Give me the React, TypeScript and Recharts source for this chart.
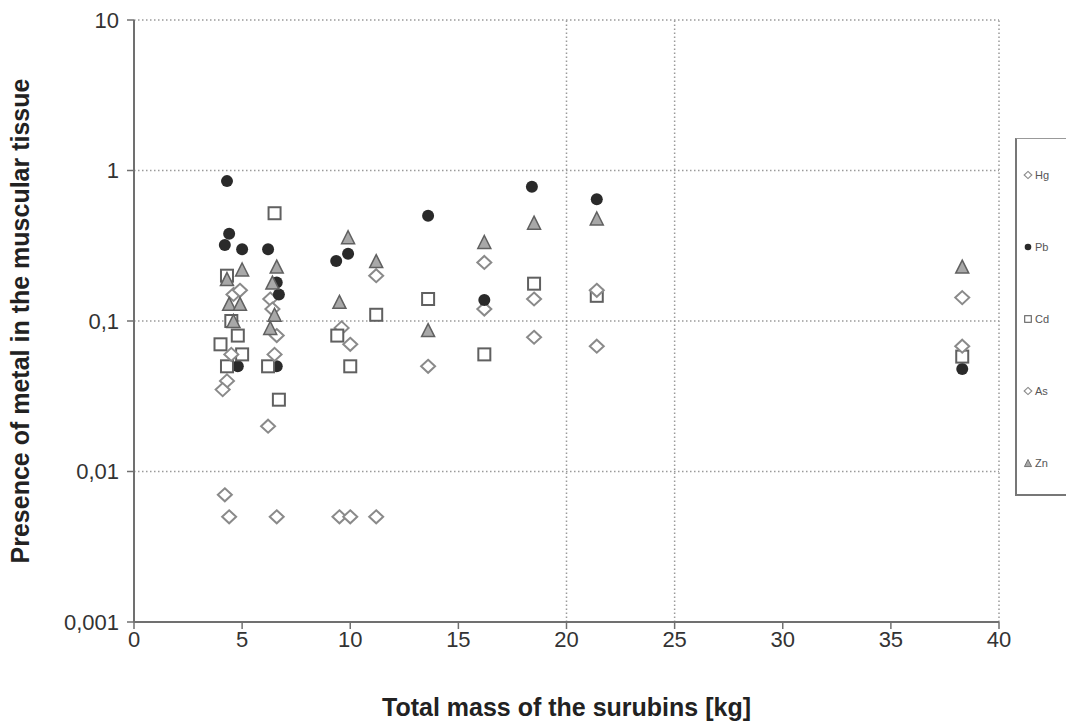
import React from "react";
import { ScatterChart, Scatter, XAxis, YAxis, ReferenceLine } from "recharts";

// mass [kg] vs metal content
const hgData = [
  { mass: 4.2, value: 0.007 },
  { mass: 4.4, value: 0.005 },
  { mass: 4.3, value: 0.04 },
  { mass: 6.2, value: 0.02 },
  { mass: 6.6, value: 0.005 },
  { mass: 6.3, value: 0.14 },
  { mass: 9.5, value: 0.005 },
  { mass: 10.0, value: 0.005 },
  { mass: 11.2, value: 0.005 },
  { mass: 9.6, value: 0.09 },
  { mass: 13.6, value: 0.05 },
  { mass: 16.2, value: 0.12 },
  { mass: 18.5, value: 0.14 },
  { mass: 21.4, value: 0.068 },
  { mass: 38.3, value: 0.143 },
];

const pbData = [
  { mass: 4.3, value: 0.85 },
  { mass: 4.4, value: 0.38 },
  { mass: 4.2, value: 0.32 },
  { mass: 5.0, value: 0.3 },
  { mass: 4.8, value: 0.05 },
  { mass: 6.2, value: 0.3 },
  { mass: 6.6, value: 0.18 },
  { mass: 6.7, value: 0.15 },
  { mass: 6.6, value: 0.05 },
  { mass: 9.35, value: 0.25 },
  { mass: 9.9, value: 0.28 },
  { mass: 13.6, value: 0.5 },
  { mass: 16.2, value: 0.138 },
  { mass: 18.4, value: 0.78 },
  { mass: 21.4, value: 0.645 },
  { mass: 38.3, value: 0.048 },
];

const cdData = [
  { mass: 4.3, value: 0.2 },
  { mass: 4.0, value: 0.07 },
  { mass: 4.3, value: 0.05 },
  { mass: 4.8, value: 0.08 },
  { mass: 5.0, value: 0.06 },
  { mass: 4.5, value: 0.1 },
  { mass: 6.5, value: 0.52 },
  { mass: 6.2, value: 0.05 },
  { mass: 6.7, value: 0.03 },
  { mass: 9.4, value: 0.08 },
  { mass: 10.0, value: 0.05 },
  { mass: 11.2, value: 0.11 },
  { mass: 13.6, value: 0.14 },
  { mass: 16.2, value: 0.06 },
  { mass: 18.5, value: 0.177 },
  { mass: 21.4, value: 0.147 },
  { mass: 38.3, value: 0.058 },
];

const asData = [
  { mass: 4.1, value: 0.035 },
  { mass: 4.6, value: 0.15 },
  { mass: 4.9, value: 0.16 },
  { mass: 4.5, value: 0.06 },
  { mass: 6.4, value: 0.12 },
  { mass: 6.6, value: 0.08 },
  { mass: 6.5, value: 0.06 },
  { mass: 10.0, value: 0.07 },
  { mass: 11.2, value: 0.2 },
  { mass: 16.2, value: 0.245 },
  { mass: 18.5, value: 0.078 },
  { mass: 21.4, value: 0.16 },
  { mass: 38.3, value: 0.068 },
];

const znData = [
  { mass: 4.3, value: 0.19 },
  { mass: 5.0, value: 0.22 },
  { mass: 4.4, value: 0.13 },
  { mass: 4.6, value: 0.1 },
  { mass: 4.9, value: 0.13 },
  { mass: 6.6, value: 0.23 },
  { mass: 6.4, value: 0.18 },
  { mass: 6.5, value: 0.11 },
  { mass: 6.3, value: 0.09 },
  { mass: 9.9, value: 0.36 },
  { mass: 9.5, value: 0.134 },
  { mass: 11.2, value: 0.25 },
  { mass: 13.6, value: 0.087 },
  { mass: 16.2, value: 0.335 },
  { mass: 18.5, value: 0.45 },
  { mass: 21.4, value: 0.48 },
  { mass: 38.3, value: 0.23 },
];

const xTicks = [0, 5, 10, 15, 20, 25, 30, 35, 40];
const yTicks = [0.001, 0.01, 0.1, 1, 10];
const yGrid = [10, 1, 0.1, 0.01];
const xGrid = [20, 25, 40];

type Kind = "diamond" | "circle" | "square" | "triangle";

function Marker({ cx, cy, kind, r = 1 }: { cx: number; cy: number; kind: Kind; r?: number }) {
  if (cx == null || cy == null) return null;
  if (kind === "diamond") {
    const w = 7 * r;
    const h = 6.5 * r;
    return (
      <path
        d={`M${cx},${cy - h}L${cx + w},${cy}L${cx},${cy + h}L${cx - w},${cy}Z`}
        fill="#fff"
        stroke="#8a8a8a"
        strokeWidth={2 * r}
      />
    );
  }
  if (kind === "circle") {
    return <circle cx={cx} cy={cy} r={6 * r} fill="#2a2a2a" />;
  }
  if (kind === "square") {
    const s = 6 * r;
    return (
      <rect x={cx - s} y={cy - s} width={2 * s} height={2 * s} fill="#fff" stroke="#606060" strokeWidth={2 * r} />
    );
  }
  const h = 6.5 * r;
  return (
    <path
      d={`M${cx},${cy - h}L${cx + 6.5 * r},${cy + h}L${cx - 6.5 * r},${cy + h}Z`}
      fill="#a8a8a8"
      stroke="#606060"
      strokeWidth={1.5 * r}
    />
  );
}

const seriesList: { name: string; data: { mass: number; value: number }[]; kind: Kind }[] = [
  { name: "Hg", data: hgData, kind: "diamond" },
  { name: "Pb", data: pbData, kind: "circle" },
  { name: "Cd", data: cdData, kind: "square" },
  { name: "As", data: asData, kind: "diamond" },
  { name: "Zn", data: znData, kind: "triangle" },
];

const fmt = (v: number) => String(v).replace(".", ",");
const font = "'Liberation Sans', Arial, sans-serif";

export default function App() {
  return (
    <div style={{ position: "relative", width: 1066, height: 723, fontFamily: font, background: "#fff" }}>
      <style>{"body{margin:0;overflow:hidden}"}</style>
      <ScatterChart width={1066} height={723} margin={{ top: 20, right: 67, bottom: 0, left: 0 }}>
        {yGrid.map((y) => (
          <ReferenceLine key={"y" + y} y={y} stroke="#9a9a9a" strokeDasharray="1.5 2.5" strokeWidth={1.5} />
        ))}
        {xGrid.map((x) => (
          <ReferenceLine key={"x" + x} x={x} stroke="#9a9a9a" strokeDasharray="1.5 2.5" strokeWidth={1.5} />
        ))}
        <XAxis
          dataKey="mass"
          type="number"
          domain={[0, 40]}
          ticks={xTicks}
          allowDataOverflow
          height={101}
          tickSize={7}
          tickMargin={2}
          axisLine={{ stroke: "#707070", strokeWidth: 2 }}
          tickLine={{ stroke: "#707070", strokeWidth: 1.5 }}
          tick={{ fill: "#333", fontSize: 22, fontFamily: font }}
          label={(props: any) => {
            const vb = props.viewBox;
            return (
              <text x={vb.x + vb.width / 2} y={716} textAnchor="middle" fill="#222" fontSize={25} fontWeight="bold" fontFamily={font}>
                Total mass of the surubins [kg]
              </text>
            );
          }}
        />
        <YAxis
          dataKey="value"
          type="number"
          scale="log"
          domain={[0.001, 10]}
          ticks={yTicks}
          allowDataOverflow
          width={134}
          tickSize={7}
          tickMargin={8}
          tickFormatter={fmt}
          axisLine={{ stroke: "#707070", strokeWidth: 2 }}
          tickLine={{ stroke: "#707070", strokeWidth: 1.5 }}
          tick={{ fill: "#333", fontSize: 22, fontFamily: font }}
          label={(props: any) => {
            const vb = props.viewBox;
            const cy = vb.y + vb.height / 2;
            return (
              <text
                x={20}
                y={cy}
                transform={`rotate(-90, 20, ${cy})`}
                textAnchor="middle"
                dominantBaseline="central"
                fill="#222"
                fontSize={25}
                fontWeight="bold"
                fontFamily={font}
              >
                Presence of metal in the muscular tissue
              </text>
            );
          }}
        />
        {seriesList.map((s) => (
          <Scatter
            key={s.name}
            name={s.name}
            data={s.data}
            isAnimationActive={false}
            shape={(p: any) => <Marker cx={p.cx} cy={p.cy} kind={s.kind} />}
          />
        ))}
      </ScatterChart>
      <div
        style={{
          position: "absolute",
          left: 1015,
          top: 138,
          width: 51,
          height: 358,
          borderLeft: "2px solid #777",
          borderTop: "1.5px solid #999",
          borderBottom: "2px solid #777",
          boxSizing: "border-box",
        }}
      >
        {seriesList.map((s, i) => (
          <div
            key={s.name}
            style={{
              position: "absolute",
              left: 6,
              top: 30 + i * 72,
              display: "flex",
              alignItems: "center",
              fontSize: 11,
              color: "#555",
            }}
          >
            <svg width={10} height={10} style={{ marginRight: 2 }}>
              <Marker cx={5} cy={5} kind={s.kind} r={0.55} />
            </svg>
            {s.name}
          </div>
        ))}
      </div>
    </div>
  );
}
